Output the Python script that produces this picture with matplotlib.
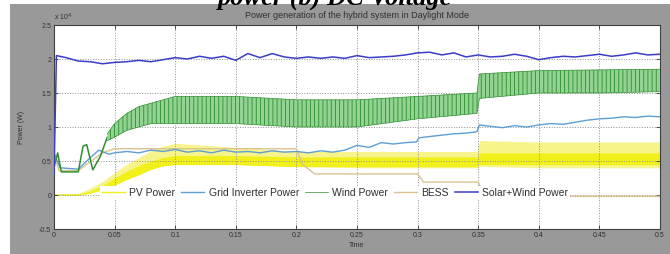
import numpy as np
import matplotlib.pyplot as plt
from matplotlib.patches import Rectangle
from matplotlib.ticker import FuncFormatter

plt.rcParams['font.family'] = ['Liberation Sans', 'DejaVu Sans']
plt.rcParams['hatch.linewidth'] = 0.6

# all powers, in units of 1e4 W
t_sw = [0, 0.002, 0.01, 0.02, 0.03, 0.04, 0.05, 0.06, 0.07, 0.08, 0.09, 0.10,
        0.11, 0.12, 0.13, 0.14, 0.15, 0.16, 0.17, 0.18, 0.19, 0.20, 0.21, 0.22,
        0.23, 0.24, 0.25, 0.26, 0.27, 0.28, 0.29, 0.30, 0.31, 0.32, 0.33, 0.34,
        0.35, 0.36, 0.37, 0.38, 0.39, 0.40, 0.41, 0.42, 0.43, 0.44, 0.45, 0.46,
        0.47, 0.48, 0.49, 0.50]
solar_wind = [0.3, 2.05, 2.02, 1.97, 1.96, 1.93, 1.95, 1.96, 1.98, 1.96, 1.99, 2.02,
              2.00, 2.04, 2.01, 2.04, 1.98, 2.08, 2.02, 2.08, 2.03, 2.01, 2.03, 2.01,
              2.03, 2.01, 2.05, 2.02, 2.03, 2.04, 2.06, 2.09, 2.10, 2.06, 2.09, 2.03,
              2.06, 2.03, 2.04, 2.07, 2.04, 1.99, 2.02, 2.04, 2.03, 2.05, 2.07, 2.04,
              2.06, 2.09, 2.06, 2.07]

# wind: start-up transient, then a fast ripple shown by its envelope
t_wind0 = [0, 0.003, 0.006, 0.02, 0.024, 0.027, 0.032, 0.038, 0.044]
wind0 = [0.40, 0.62, 0.34, 0.34, 0.72, 0.74, 0.37, 0.56, 0.85]
t_wind = [0.044, 0.05, 0.06, 0.07, 0.08, 0.10, 0.15, 0.20, 0.25, 0.30, 0.349, 0.351,
          0.40, 0.45, 0.50]
wind_lo = [0.80, 0.85, 0.95, 1.00, 1.05, 1.05, 1.05, 1.00, 1.00, 1.12, 1.20, 1.42,
           1.50, 1.50, 1.52]
wind_hi = [0.90, 1.05, 1.20, 1.30, 1.35, 1.45, 1.45, 1.40, 1.40, 1.45, 1.50, 1.78,
           1.83, 1.84, 1.85]

t_grid = [0, 0.005, 0.02, 0.03, 0.037, 0.045, 0.05, 0.06, 0.07, 0.08, 0.09, 0.10,
          0.11, 0.12, 0.13, 0.14, 0.15, 0.16, 0.17, 0.18, 0.19, 0.20, 0.21, 0.22,
          0.23, 0.24, 0.25, 0.26, 0.27, 0.28, 0.29, 0.299, 0.301, 0.31, 0.32, 0.33,
          0.34, 0.349, 0.351, 0.36, 0.37, 0.38, 0.39, 0.40, 0.41, 0.42, 0.43, 0.44,
          0.45, 0.46, 0.47, 0.48, 0.49, 0.50]
grid_inv = [0.62, 0.40, 0.38, 0.55, 0.66, 0.60, 0.62, 0.64, 0.62, 0.66, 0.64, 0.67,
            0.63, 0.65, 0.62, 0.66, 0.63, 0.64, 0.62, 0.65, 0.63, 0.64, 0.62, 0.65,
            0.63, 0.66, 0.73, 0.70, 0.77, 0.75, 0.77, 0.78, 0.84, 0.86, 0.88, 0.90,
            0.91, 0.93, 1.03, 1.01, 0.99, 1.02, 1.00, 1.03, 1.05, 1.04, 1.07, 1.10,
            1.12, 1.13, 1.15, 1.14, 1.16, 1.15]

t_bess = [0, 0.004, 0.02, 0.04, 0.05, 0.20, 0.205, 0.215, 0.30, 0.305, 0.35, 0.355, 0.50]
bess = [0.62, 0.36, 0.36, 0.62, 0.68, 0.68, 0.45, 0.31, 0.31, 0.19, 0.19, -0.02, -0.02]

# PV: thick rippled band, outer envelope and bright core
t_pv = [0, 0.02, 0.03, 0.04, 0.05, 0.06, 0.07, 0.08, 0.09, 0.10, 0.15, 0.20, 0.25,
        0.30, 0.349, 0.351, 0.40, 0.45, 0.50]
pv_lo = [0, 0, 0.04, 0.10, 0.18, 0.27, 0.34, 0.42, 0.47, 0.50, 0.46, 0.42, 0.40,
         0.40, 0.40, 0.42, 0.40, 0.40, 0.40]
pv_hi = [0.01, 0.02, 0.10, 0.20, 0.33, 0.45, 0.55, 0.65, 0.72, 0.76, 0.70, 0.64, 0.64,
         0.64, 0.64, 0.80, 0.78, 0.78, 0.78]
pv_core_lo = [0, 0, 0.03, 0.08, 0.15, 0.23, 0.30, 0.38, 0.43, 0.45, 0.45, 0.42, 0.42,
              0.42, 0.42, 0.45, 0.45, 0.45, 0.45]
pv_core_hi = [0.01, 0.01, 0.06, 0.14, 0.25, 0.35, 0.43, 0.50, 0.55, 0.58, 0.58, 0.56,
              0.56, 0.56, 0.56, 0.62, 0.62, 0.62, 0.62]

x_ticks = [0, 0.05, 0.1, 0.15, 0.2, 0.25, 0.3, 0.35, 0.4, 0.45, 0.5]
y_ticks = [-0.5, 0, 0.5, 1, 1.5, 2, 2.5]

c_pv = '#f2f01a'
c_grid = '#5f9fd4'
c_wind = '#2f8f2f'
c_bess = '#d8c490'
c_sw = '#3c3cc8'
txt = '#303030'

fig = plt.figure(figsize=(6.7, 2.54), dpi=100)
fig.patch.set_facecolor('white')
fig.add_artist(Rectangle((10 / 670, 0), 1, 1 - 4 / 254, transform=fig.transFigure,
                         facecolor='#999999', edgecolor='none', zorder=-5))
fig.text(0.50, 1 - 5 / 254, 'power (b) DC Voltage', ha='center', va='baseline',
         fontsize=19, fontweight='bold', fontstyle='italic', family='Liberation Serif',
         color='black', zorder=5)

ax = fig.add_axes([54 / 670, 1 - 229 / 254, 606 / 670, 204 / 254])
ax.set_facecolor('white')

ax.fill_between(t_pv, pv_lo, pv_hi, color='#f6f48a', lw=0, zorder=1)
ax.fill_between(t_pv, pv_core_lo, pv_core_hi, color=c_pv, lw=0, zorder=1.2)
l_pv, = ax.plot(t_pv, pv_core_lo, color=c_pv, lw=1.0, zorder=1.3)

l_bess, = ax.plot(t_bess, bess, color=c_bess, lw=1.0, zorder=2)
l_grid, = ax.plot(t_grid, grid_inv, color=c_grid, lw=1.0, zorder=3)

ax.plot(t_wind0, wind0, color=c_wind, lw=1.1, zorder=4)
ax.fill_between(t_wind, wind_lo, wind_hi, facecolor='#92d292', edgecolor=c_wind,
                hatch='||||', lw=0, zorder=4)
l_wind, = ax.plot(t_wind, wind_hi, color=c_wind, lw=0.5, zorder=4.1)
ax.plot(t_wind, wind_lo, color=c_wind, lw=0.5, zorder=4.1)

l_sw, = ax.plot(t_sw, solar_wind, color=c_sw, lw=1.1, zorder=5)

ax.set_xlim(0, 0.5)
ax.set_ylim(-0.5, 2.5)
ax.set_xticks(x_ticks)
ax.set_yticks(y_ticks)
fmt = FuncFormatter(lambda v, p: '%g' % v)
ax.xaxis.set_major_formatter(fmt)
ax.yaxis.set_major_formatter(fmt)
ax.tick_params(direction='in', length=3, width=0.6, labelsize=5, colors=txt,
               top=True, right=True, pad=2)
ax.grid(True, linestyle=':', linewidth=0.7, color='#909090')
for s in ax.spines.values():
    s.set_color('#404040')
    s.set_linewidth(0.8)

ax.text(0.0, 1.01, r'x 10$^4$', transform=ax.transAxes, fontsize=5, color=txt,
        ha='left', va='bottom')
ax.set_title('Power generation of the hybrid system in Daylight Mode', fontsize=6.5,
             color=txt, pad=5)
ax.set_xlabel('Time', fontsize=5, color=txt, labelpad=2)
ax.set_ylabel('Power (W)', fontsize=5, color=txt, labelpad=10)

leg = ax.legend([l_pv, l_grid, l_wind, l_bess, l_sw],
                ['PV Power', 'Grid Inverter Power', 'Wind Power', 'BESS', 'Solar+Wind Power'],
                loc='center', bbox_to_anchor=(0.464, 0.176), ncol=5, fontsize=7.5,
                frameon=True, framealpha=1, facecolor='white', edgecolor='none',
                handlelength=2.2, handletextpad=0.4, columnspacing=0.6,
                borderpad=0.2, fancybox=False)
for tx in leg.get_texts():
    tx.set_color(txt)
leg.set_zorder(6)

fig.savefig('out.png', dpi=100)
